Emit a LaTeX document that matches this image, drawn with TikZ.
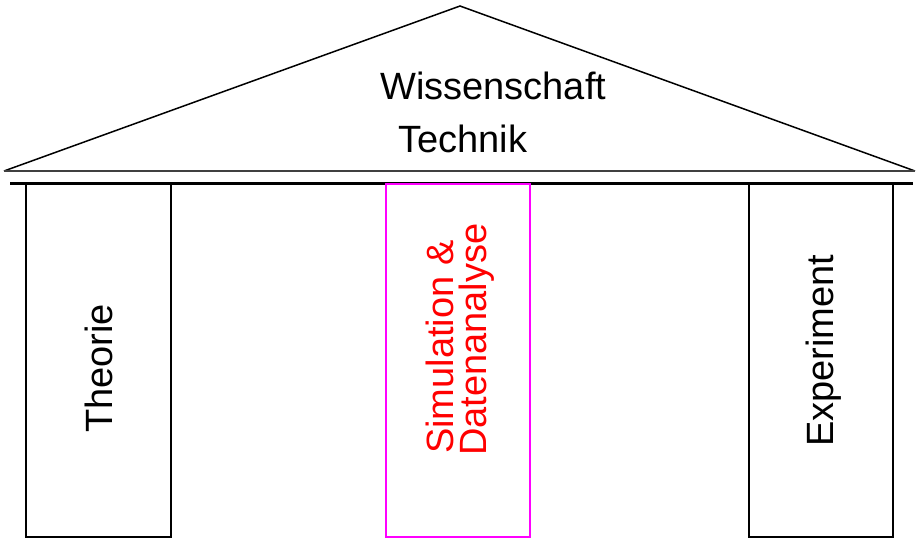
\documentclass[tikz,border=0pt]{standalone}
\usepackage{fontspec}
\setmainfont{Liberation Sans}
\definecolor{pmag}{RGB}{255,0,255}
\definecolor{pred}{RGB}{255,0,0}
\begin{document}
\begin{tikzpicture}[x=1pt,y=-1pt,
  lbl/.style={inner sep=0pt, font=\fontsize{38}{33}\selectfont},
  pillar/.style={draw=black, line width=2.3pt},
  simpillar/.style={draw=pmag, line width=2.3pt},
  roof/.style={draw=black, line width=1.5pt, line join=miter}]
\useasboundingbox (0,0) rectangle (918,539);
% roof
\coordinate (L) at (4,171);
\coordinate (A) at (460,6);
\coordinate (R) at (915,171);
\draw[roof] (L) -- (A) -- (R);
\draw[draw=black!75, line width=1.7pt] (L) -- (R);
% beam
\coordinate (BL) at (10,183);
\coordinate (BR) at (913,183);
\draw[line width=3pt] (BL) -- (BR);
% pillars
\draw[pillar] (26,184) rectangle (171,537);
\draw[simpillar] (386,184) rectangle (530,537);
\draw[pillar] (749,184) rectangle (893,537);
% texts
\node[lbl, anchor=base west] (wis) at (380,99) {Wissenschaft};
\node[lbl, anchor=base west] (tec) at (398,152) {Technik};
\node[lbl, rotate=90, anchor=base west] (the) at (112,433) {Theorie};
\node[lbl, rotate=90, anchor=base west, text=pred] (sim) at (453,454) {Simulation \&};
\node[lbl, rotate=90, anchor=base west, text=pred] (dat) at (486,456) {Datenanalyse};
\node[lbl, rotate=90, anchor=base west] (exp) at (833,447) {Experiment};
\end{tikzpicture}
\end{document}
